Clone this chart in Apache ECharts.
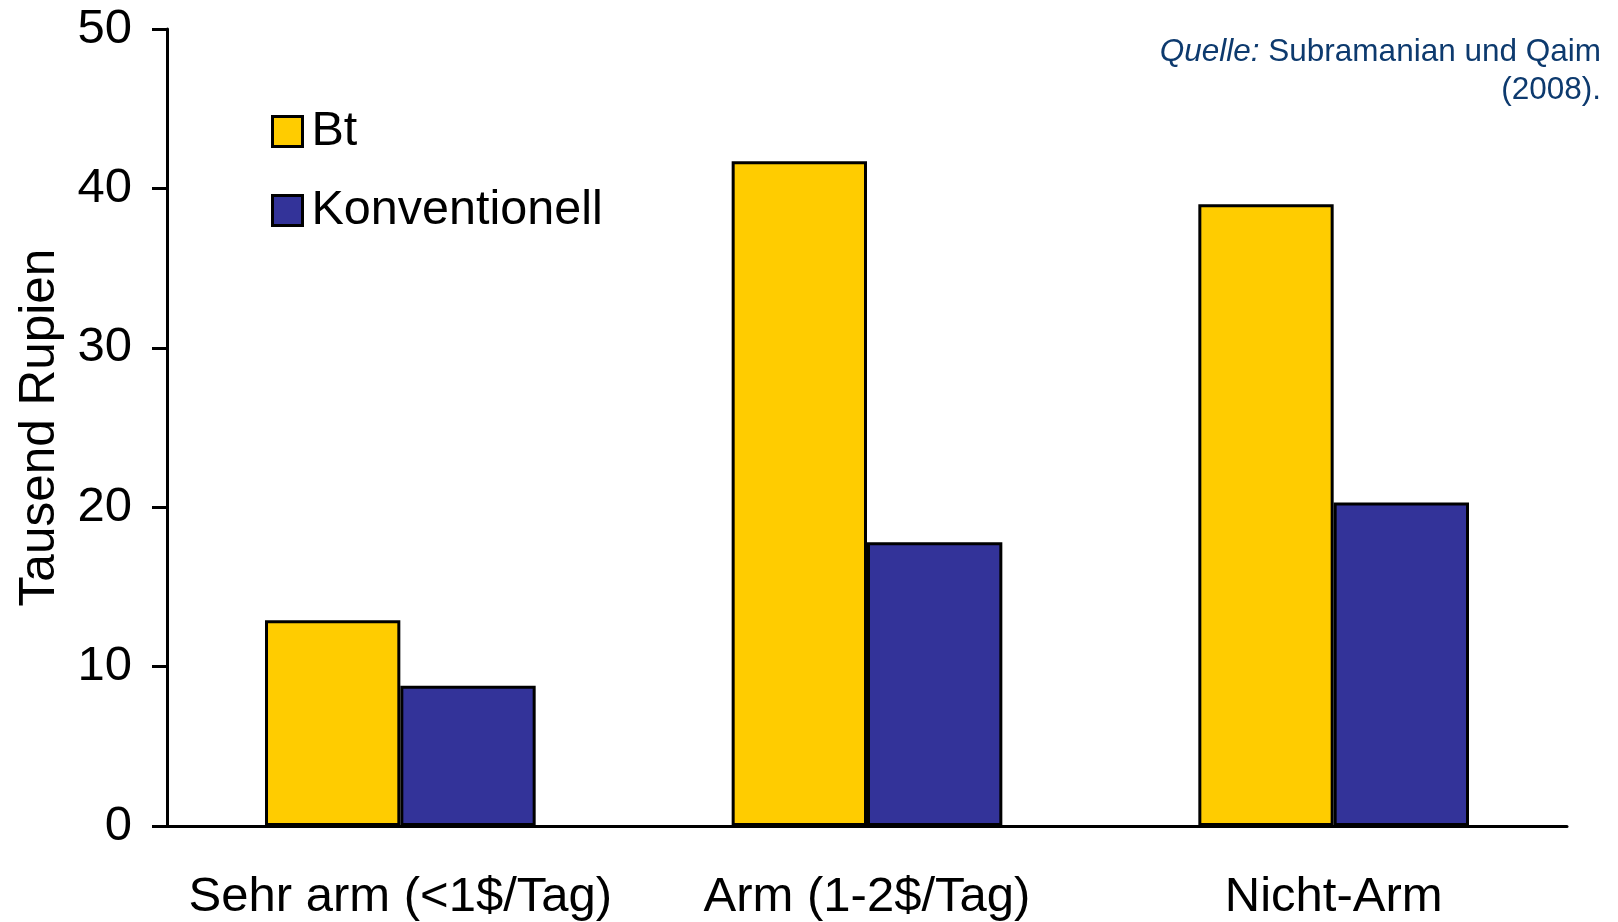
<!DOCTYPE html>
<html>
<head>
<meta charset="utf-8">
<script src="https://cdn.jsdelivr.net/npm/echarts@6/dist/echarts.min.js"></script>
<style>
html,body{margin:0;padding:0;background:#fff;}
#chart{width:1618px;height:922px;}
</style>
</head>
<body>
<div id="chart"></div>
<script>
const categories = ['Sehr arm (<1$/Tag)', 'Arm (1-2$/Tag)', 'Nicht-Arm'];
const btValues = [12.9, 41.7, 39.0];
const konvValues = [8.8, 17.8, 20.3];
const seriesNames = ['Bt', 'Konventionell'];
const yAxisTitle = 'Tausend Rupien';
const sourceLine1 = 'Subramanian und Qaim';
const sourceLine2 = '(2008).';

const FONT = '"Liberation Sans", Arial, sans-serif';
const SRC = '#0d3a6e';
const chart = echarts.init(document.getElementById('chart'), null, {renderer: 'canvas'});
chart.setOption({
  backgroundColor: '#ffffff',
  animation: false,
  textStyle: {fontFamily: FONT},
  grid: {left: 167, right: 51, top: 29, bottom: 92, containLabel: false},
  legend: {
    orient: 'vertical',
    left: 266,
    top: 102,
    itemWidth: 30,
    itemHeight: 30,
    itemGap: 30,
    icon: 'rect',
    itemStyle: {borderColor: '#000', borderWidth: 3},
    textStyle: {fontSize: 48.5, color: '#000', fontFamily: FONT, padding: [0, 0, 0, 4]},
    data: seriesNames
  },
  xAxis: {
    type: 'category',
    data: categories,
    axisLine: {show: true, lineStyle: {color: '#000', width: 3}},
    axisTick: {show: false},
    axisLabel: {fontSize: 49, color: '#000', margin: 47, interval: 0, fontFamily: FONT},
    splitLine: {show: false}
  },
  yAxis: {
    type: 'value',
    min: 0, max: 50, interval: 10,
    name: yAxisTitle,
    nameLocation: 'middle',
    nameGap: 102,
    nameRotate: 90,
    nameTextStyle: {fontSize: 49.5, color: '#000', fontFamily: FONT},
    axisLine: {show: true, lineStyle: {color: '#000', width: 3}},
    axisTick: {show: true, length: 15, lineStyle: {color: '#000', width: 3}},
    axisLabel: {fontSize: 49, color: '#000', margin: 35, fontFamily: FONT},
    splitLine: {show: false}
  },
  series: [
    {
      name: seriesNames[0], type: 'bar', data: btValues,
      barGap: '0%', barCategoryGap: '42%',
      itemStyle: {color: '#FFCC00', borderColor: '#000', borderWidth: 3}
    },
    {
      name: seriesNames[1], type: 'bar', data: konvValues,
      barGap: '0%', barCategoryGap: '42%',
      itemStyle: {color: '#333399', borderColor: '#000', borderWidth: 3}
    }
  ],
  graphic: [
    {
      type: 'text',
      right: 17,
      top: 36,
      style: {
        text: '{i|Quelle:}{n| ' + sourceLine1 + '}',
        fill: SRC,
        font: '31.5px ' + FONT,
        rich: {
          i: {fontStyle: 'italic', fontSize: 31.5, fontFamily: FONT, fill: SRC},
          n: {fontSize: 31.5, fontFamily: FONT, fill: SRC}
        }
      }
    },
    {
      type: 'text',
      right: 17,
      top: 74,
      style: {
        text: sourceLine2,
        fill: SRC,
        font: '31.5px ' + FONT
      }
    }
  ]
});
</script>
</body>
</html>
